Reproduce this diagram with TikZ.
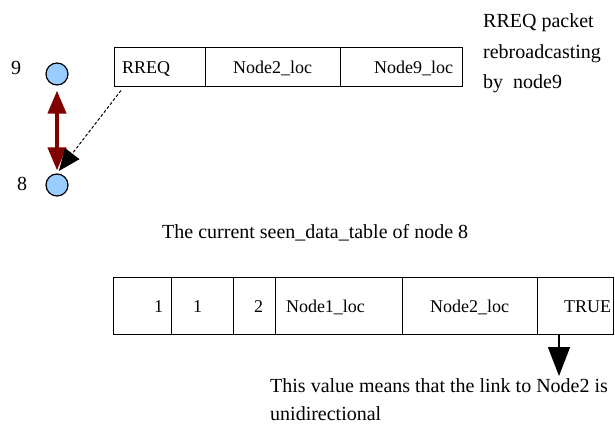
\documentclass[tikz,border=0pt]{standalone}
\usepackage{fontspec}
\setmainfont{Liberation Serif}
\usetikzlibrary{positioning,arrows.meta}
\definecolor{nodeblue}{RGB}{153,204,255}
\definecolor{linkred}{RGB}{128,0,0}

\begin{document}
\begin{tikzpicture}[x = 1pt, y = -1pt,
    cell/.style = {draw, line width = 1pt, outer sep = 0pt, inner ysep = 0pt, minimum height = 39pt,
        text height = 12.6pt, text depth = 0pt, font = \fontsize{18}{20}\selectfont},
    tallcell/.style = {cell, minimum height = 57pt},
    sensor/.style = {shape = circle, draw, fill = nodeblue, line width = 1.2pt, minimum size = 22pt, inner sep = 0pt},
    note/.style = {inner sep = 0pt, align = left}]
    \useasboundingbox (0,0) rectangle (615,427);
    % nodes 9 and 8
    \node [sensor] (n9) at (57,74) {};
    \node [sensor] (n8) at (57,185) {};
    \node [font = \fontsize{20}{24}\selectfont] (l9) at (16,68) {9};
    \node [font = \fontsize{20}{24}\selectfont] (l8) at (22,184) {8};
    % RREQ packet
    \node [cell, anchor = west, text width = 75pt, inner xsep = 8pt, align = left] (rreq) at (114,67) {RREQ};
    \node [cell, right = 0pt of rreq, text width = 119pt, inner xsep = 8pt, align = center] (ploc2) {Node2\_loc};
    \node [cell, right = 0pt of ploc2, text width = 104pt, inner xsep = 9pt, align = right] (ploc9) {Node9\_loc};
    \node [note, anchor = north west, font = \fontsize{20}{30.5}\selectfont] (pnote) at (483,13.5)
        {RREQ packet\\rebroadcasting\\by~ node9};
    % seen_data_table
    \node [anchor = base west, inner sep = 0pt, font = \fontsize{20}{24}\selectfont] (title) at (162,239)
        {The current seen\_data\_table of node 8};
    \node [tallcell, anchor = west, text width = 42pt, inner xsep = 8pt, align = right] (src) at (113,306.3) {1};
    \node [tallcell, right = 0pt of src, text width = 18pt, inner xsep = 22pt, align = left] (seq) {1};
    \node [tallcell, right = 0pt of seq, text width = 18pt, inner xsep = 12pt, align = right] (hops) {2};
    \node [tallcell, right = 0pt of hops, text width = 105pt, inner xsep = 11pt, align = left] (tloc1) {Node1\_loc};
    \node [tallcell, right = 0pt of tloc1, text width = 119pt, inner xsep = 8pt, align = center] (tloc2) {Node2\_loc};
    \node [tallcell, right = 0pt of tloc2, text width = 72pt, inner xsep = 2pt, align = right] (flag) {TRUE};
    \node [note, anchor = north west, font = \fontsize{20}{28}\selectfont] (fnote) at (270,378.3)
        {This value means that the link to Node2 is\\unidirectional};
    % arrows
    \draw [linkred, line width = 4pt, shorten < = 5pt, shorten > = 3pt,
        {Triangle[length = 23pt, width = 18pt]}-{Triangle[length = 23pt, width = 18pt]}] (n9) -- (n8);
    \coordinate (dstart) at ([xshift = 7pt, yshift = -4pt]rreq.south west);
    \draw [line width = 1pt, dash pattern = on 3pt off 2pt, shorten > = 3pt,
        -{Triangle[length = 22pt, width = 18pt]}] (dstart) -- (n8.north);
    \coordinate (fstart) at ([xshift = -16pt]flag.south);
    \coordinate (ftip) at (559,376);
    \draw [line width = 1.5pt, -{Triangle[length = 29pt, width = 22pt]}] (fstart) -- (ftip);
\end{tikzpicture}
\end{document}
